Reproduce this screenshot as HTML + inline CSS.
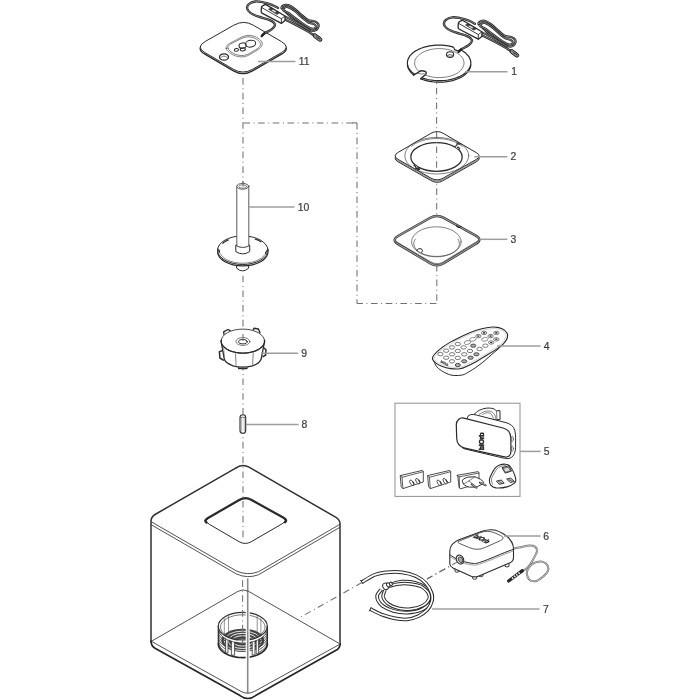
<!DOCTYPE html>
<html><head><meta charset="utf-8">
<style>
html,body{margin:0;padding:0;background:#fff;}
body{width:700px;height:700px;overflow:hidden;font-family:"Liberation Sans",sans-serif;}
svg{display:block;will-change:transform;transform:translateZ(0)}
.ax{fill:none;stroke:#707070;stroke-width:1.05;stroke-dasharray:6.6 3.6 1 3.5}
.ld{fill:none;stroke:#9c9c9c;stroke-width:1.5}
.o{fill:none;stroke:#2a2a2a;stroke-width:1;stroke-linejoin:round;stroke-linecap:round}
.t{fill:none;stroke:#4a4a4a;stroke-width:0.7;stroke-linejoin:round;stroke-linecap:round}
.s{fill:none;stroke:#333;stroke-width:0.85;stroke-linejoin:round;stroke-linecap:round}
.g{fill:none;stroke:#777;stroke-width:0.6;stroke-linejoin:round;stroke-linecap:round}
.w{fill:#fff;stroke:#2a2a2a;stroke-width:1;stroke-linejoin:round;stroke-linecap:round}
.wt{fill:#fff;stroke:#4a4a4a;stroke-width:0.7;stroke-linejoin:round;stroke-linecap:round}
.k{fill:#333;stroke:none}
text{font-family:"Liberation Sans",sans-serif;font-size:10.4px;fill:#3c3c3c;stroke:#3c3c3c;stroke-width:0.22px}
</style></head><body>
<svg width="700" height="700" viewBox="0 0 700 700">
<g id="axes">
<path class="ax" d="M243 78.1V186.6" />
<path class="ax" d="M243.4 122.9H357" />
<path class="ax" d="M352 122.9H357"  style="stroke-dasharray:none"/>
<path class="ax" d="M357 122.9V303.4" />
<path class="ax" d="M436.4 303.4H357" />
<path class="ax" d="M243 275.7V341" />
<path class="ax" d="M243 363.8V415" />
<path class="ax" d="M243 427V537.4"  style="stroke-dasharray:6.6 3.65 1 3.55"/>
<path class="ax" d="M436.7 183V215.7"  style="stroke-dashoffset:9.4"/>
<path class="ax" d="M436.8 264.8V303" />
<path class="ax" d="M458 561.6L427 579" />
<path class="ax" d="M362 582.5L300 617.5" />
</g>
<g id="cyl">
<defs><clipPath id="csil"><path d="M218.3 626.2L218.5 624.8L218.9 623.3L219.5 621.9L220.5 620.6L221.6 619.3L223.0 618.1L224.6 617.0L226.5 615.9L228.4 615.0L230.6 614.2L232.9 613.6L235.3 613.1L237.8 612.7L240.3 612.5L242.8 612.4L245.4 612.5L247.9 612.7L250.4 613.1L252.8 613.6L255.1 614.2L257.3 615.0L259.2 615.9L261.1 617.0L262.7 618.1L264.1 619.3L265.2 620.6L266.2 621.9L266.8 623.3L267.2 624.8L267.4 626.2L267.4 643.8L267.4 643.8L267.2 645.2L266.8 646.7L266.2 648.1L265.2 649.4L264.1 650.7L262.7 651.9L261.1 653.0L259.2 654.1L257.3 655.0L255.1 655.8L252.8 656.4L250.4 656.9L247.9 657.3L245.4 657.5L242.8 657.6L240.3 657.5L237.8 657.3L235.3 656.9L232.9 656.4L230.6 655.8L228.4 655.0L226.5 654.1L224.6 653.0L223.0 651.9L221.6 650.7L220.5 649.4L219.5 648.1L218.9 646.7L218.5 645.2L218.3 643.8Z"/></clipPath></defs>
<path class="t" d="M224.3 618.7V635.2"  style="stroke:#666"/>
<path class="t" d="M228.5 616.5V637.4"  style="stroke:#666"/>
<path class="t" d="M257.2 616.5V637.4"  style="stroke:#666"/>
<path class="t" d="M260.9 618.4V635.5"  style="stroke:#666"/>
<g clip-path="url(#csil)">
<ellipse class="" cx="242.8" cy="640.3" rx="21.5" ry="11.6"  style="fill:#454545;stroke:none"/>
<ellipse class="" cx="242.8" cy="640.9" rx="18.6" ry="9.8"  style="fill:none;stroke:#f0f0f0;stroke-width:0.9"/>
<ellipse class="" cx="242.8" cy="640.9" rx="14.6" ry="7.6"  style="fill:none;stroke:#f0f0f0;stroke-width:1.0"/>
<ellipse class="" cx="242.8" cy="640.9" rx="10.4" ry="5.2"  style="fill:none;stroke:#f0f0f0;stroke-width:1.0"/>
<ellipse class="" cx="242.8" cy="641.1" rx="5.8" ry="2.7"  style="fill:#e4e4e4;stroke:#333;stroke-width:0.7"/>
<path class="" d="M227.8 639.7L226.2 638.9L224.8 638.1L223.4 637.2L222.3 636.3L221.2 635.3L220.3 634.2L219.6 633.2L219.0 632.0L218.6 630.9L218.4 629.8"  style="fill:none;stroke:#3a3a3a;stroke-width:0.9"/>
<path class="" d="M267.3 629.8L267.1 630.9L266.7 632.0L266.1 633.2L265.4 634.2L264.5 635.3L263.4 636.3L262.3 637.2L260.9 638.1L259.5 638.9L257.9 639.7"  style="fill:none;stroke:#3a3a3a;stroke-width:0.9"/>
<path class="" d="M227.8 642.3L226.2 641.5L224.8 640.7L223.4 639.8L222.3 638.9L221.2 637.9L220.3 636.8L219.6 635.8L219.0 634.6L218.6 633.5L218.4 632.4"  style="fill:none;stroke:#3a3a3a;stroke-width:0.9"/>
<path class="" d="M267.3 632.4L267.1 633.5L266.7 634.6L266.1 635.8L265.4 636.8L264.5 637.9L263.4 638.9L262.3 639.8L260.9 640.7L259.5 641.5L257.9 642.3"  style="fill:none;stroke:#3a3a3a;stroke-width:0.9"/>
<path class="" d="M227.8 644.9L226.2 644.1L224.8 643.3L223.4 642.4L222.3 641.5L221.2 640.5L220.3 639.4L219.6 638.4L219.0 637.2L218.6 636.1L218.4 635.0"  style="fill:none;stroke:#3a3a3a;stroke-width:0.9"/>
<path class="" d="M267.3 635.0L267.1 636.1L266.7 637.2L266.1 638.4L265.4 639.4L264.5 640.5L263.4 641.5L262.3 642.4L260.9 643.3L259.5 644.1L257.9 644.9"  style="fill:none;stroke:#3a3a3a;stroke-width:0.9"/>
<path class="" d="M227.8 647.5L226.2 646.7L224.8 645.9L223.4 645.0L222.3 644.1L221.2 643.1L220.3 642.0L219.6 641.0L219.0 639.8L218.6 638.7L218.4 637.6"  style="fill:none;stroke:#3a3a3a;stroke-width:0.9"/>
<path class="" d="M267.3 637.6L267.1 638.7L266.7 639.8L266.1 641.0L265.4 642.0L264.5 643.1L263.4 644.1L262.3 645.0L260.9 645.9L259.5 646.7L257.9 647.5"  style="fill:none;stroke:#3a3a3a;stroke-width:0.9"/>
<path class="" d="M227.8 650.1L226.2 649.3L224.8 648.5L223.4 647.6L222.3 646.7L221.2 645.7L220.3 644.6L219.6 643.6L219.0 642.4L218.6 641.3L218.4 640.2"  style="fill:none;stroke:#3a3a3a;stroke-width:0.9"/>
<path class="" d="M267.3 640.2L267.1 641.3L266.7 642.4L266.1 643.6L265.4 644.6L264.5 645.7L263.4 646.7L262.3 647.6L260.9 648.5L259.5 649.3L257.9 650.1"  style="fill:none;stroke:#3a3a3a;stroke-width:0.9"/>
<path class="" d="M227.8 652.7L226.2 651.9L224.8 651.1L223.4 650.2L222.3 649.3L221.2 648.3L220.3 647.2L219.6 646.2L219.0 645.0L218.6 643.9L218.4 642.8"  style="fill:none;stroke:#3a3a3a;stroke-width:0.9"/>
<path class="" d="M267.3 642.8L267.1 643.9L266.7 645.0L266.1 646.2L265.4 647.2L264.5 648.3L263.4 649.3L262.3 650.2L260.9 651.1L259.5 651.9L257.9 652.7"  style="fill:none;stroke:#3a3a3a;stroke-width:0.9"/>
</g>
<path class="" d="M225.6 637.4H228.0V653.0H225.6Z"  style="fill:#f6f6f6;stroke:#222;stroke-width:0.7"/>
<path class="" d="M231.4 639.6H234.6V655.2H231.4Z"  style="fill:#f6f6f6;stroke:#222;stroke-width:0.7"/>
<path class="" d="M252.2 639.4H255.0V655.0H252.2Z"  style="fill:#f6f6f6;stroke:#222;stroke-width:0.7"/>
<path class="" d="M256.2 638.1H258.6V653.7H256.2Z"  style="fill:#f6f6f6;stroke:#222;stroke-width:0.7"/>
<path class="" d="M266.7 628.9L266.4 630.2L265.9 631.6L265.1 632.9L264.2 634.2L263.0 635.3L261.6 636.5L260.0 637.5L258.3 638.5L256.4 639.3L254.3 640.0L252.2 640.6L249.9 641.1L247.6 641.4L245.2 641.6L242.8 641.7L240.5 641.6L238.1 641.4L235.8 641.1L233.5 640.6L231.4 640.0L229.3 639.3L227.4 638.5L225.7 637.5L224.1 636.5L222.7 635.3L221.5 634.2L220.6 632.9L219.8 631.6L219.3 630.2L219.0 628.9"  style="fill:none;stroke:#f8f8f8;stroke-width:1.7"/>
<path class="" d="M266.8 630.6L266.5 632.0L265.9 633.3L265.1 634.5L264.0 635.8L262.8 636.9L261.4 638.0L259.8 639.0L258.1 639.9L256.2 640.7L254.2 641.4L252.0 642.0L249.8 642.4L247.5 642.7L245.2 642.9L242.8 643.0L240.5 642.9L238.2 642.7L235.9 642.4L233.7 642.0L231.5 641.4L229.5 640.7L227.6 639.9L225.9 639.0L224.3 638.0L222.9 636.9L221.7 635.8L220.6 634.5L219.8 633.3L219.2 632.0L218.9 630.6"  style="fill:none;stroke:#333;stroke-width:0.7"/>
<path class="o" d="M267.4 643.8L267.2 645.2L266.8 646.7L266.2 648.1L265.2 649.4L264.1 650.7L262.7 651.9L261.1 653.0L259.2 654.1L257.3 655.0L255.1 655.8L252.8 656.4L250.4 656.9L247.9 657.3L245.4 657.5L242.8 657.6L240.3 657.5L237.8 657.3L235.3 656.9L232.9 656.4L230.6 655.8L228.4 655.0L226.5 654.1L224.6 653.0L223.0 651.9L221.6 650.7L220.5 649.4L219.5 648.1L218.9 646.7L218.5 645.2L218.3 643.8"  style="stroke-width:1.7"/>
<path class="o" d="M218.3 626.2V643.8M267.4 626.2V643.8"  style="stroke-width:1.2"/>
<ellipse class="" cx="242.8" cy="626.2" rx="24.5" ry="13.8"  style="fill:none;stroke:#333;stroke-width:1.2"/>
<ellipse class="" cx="242.8" cy="627.0" rx="22.3" ry="12.2"  style="fill:none;stroke:#555;stroke-width:0.8"/>
</g>
<path class="ax" d="M242.6 580.3V644"  style="stroke-dasharray:6.7 3.7 1 3.45"/>
<g id="cube">
<path class="o" d="M236.5 467.6Q242.8 463.6 249 467.2L336 517.4Q340 519.8 340 524V642"  style="stroke-width:1.5;stroke:#303030"/>
<path class="o" d="M236.5 467.6L155 514.5Q151 516.8 151 521.5V642"  style="stroke-width:1.5;stroke:#303030"/>
<path class="s" d="M151.5 521.9L236.3 570.9Q247.5 576.0 258.6 571.7L339.8 524.4" />
<path class="s" d="M151.5 524.9L236.3 573.9Q247.5 579.0 258.6 574.7L339.8 527.4" />
<path class="" d="M247.7 578.5V693.2"  style="fill:none;stroke:#fff;stroke-width:4"/>
<path class="" d="M247.7 578.5V693.2"  style="fill:none;stroke:#8a8a8a;stroke-width:1.6"/>
<path class="s" d="M151.6 641.2L238 591.3Q243 588.4 248.5 591.3L339.4 643.6" />
<path class="s" d="M151.5 641.4L241 691.4Q247.7 695 254.5 691.4L339.2 644.6" />
<path class="o" d="M151 641Q151 645.8 155 648.2L240 695.6Q247.8 701.4 255.6 695.6L335.6 650.6Q340.4 648 340.2 643"  style="stroke-width:1.7;stroke:#262626"/>
<path class="s" d="M239.4 500.3Q245.5 496.8 251.6 500.2L282.1 516.9Q288.2 520.3 282.1 523.8L251.3 541.7Q245.2 545.2 239.1 541.7L209.3 524.3Q203.2 520.8 209.3 517.3Z"  style="stroke-width:1;stroke:#2a2a2a"/>
<path class="o" d="M206.4 522.6Q203.6 520.6 207.6 518.2L239.6 499.8Q245.5 496.6 251.2 499.8L283.6 517.8Q287.8 520.2 285 522.4"  style="stroke-width:2.2"/>
</g>
<g id="p2">
<path class="w" d="M431.0 135.7Q437.1 132.2 443.2 135.7L476.2 155.0Q482.3 158.5 476.2 161.9L443.1 180.6Q437.0 184.0 430.9 180.5L398.1 161.8Q392.0 158.3 398.1 154.8Z" />
<path class="t" d="M431.0 134.5Q437.1 131.0 443.2 134.5L476.2 153.8Q482.3 157.3 476.2 160.7L443.1 179.4Q437.0 182.8 430.9 179.3L398.1 160.6Q392.0 157.1 398.1 153.6Z" />
<path class="w" d="M431.0 133.3Q437.1 129.8 443.2 133.3L476.2 152.6Q482.3 156.1 476.2 159.5L443.1 178.2Q437.0 181.6 430.9 178.1L398.1 159.4Q392.0 155.9 398.1 152.4Z" />
<ellipse class="t" cx="436.8" cy="155.7" rx="32.0" ry="18.3" />
<path class="t" d="M411.4 146.3L413.2 144.9L415.3 143.6L417.5 142.5L419.9 141.5L422.5 140.6L425.2 139.8L428.0 139.3L430.9 138.8L433.8 138.6L436.8 138.5L439.8 138.6L442.7 138.8L445.6 139.3L448.4 139.8L451.1 140.6L453.7 141.5L456.1 142.5L458.3 143.6L460.4 144.9L462.2 146.3" />
<ellipse class="o" cx="436.5" cy="157.0" rx="25.7" ry="14.3"  style="stroke-width:1.25"/>
<path class="" d="M456.2 146.6L458.6 148.2"  style="fill:none;stroke:#fff;stroke-width:2.2"/>
<path class="o" d="M455.6 146.2Q457.6 145.2 457.2 143.2Q458.6 144.6 460.6 143.6M457.4 147.6Q458.2 146.2 459.6 148.8"  style="stroke-width:1.2"/>
<path class="" d="M414.6 166.2L417 168"  style="fill:none;stroke:#fff;stroke-width:2.2"/>
<path class="o" d="M414 165.4Q416.6 166.6 415.8 168.6Q417.6 168.2 418.6 170M416.2 168.6Q418.4 167.2 419.6 169.4"  style="stroke-width:1.2"/>
</g>
<path class="ax" d="M436.6 73V168.6" />
<g id="p3">
<path class="" d="M429.9 218.0Q436.8 214.0 443.8 217.9L475.8 235.6Q482.8 239.5 476.0 243.7L443.8 263.2Q437.0 267.4 430.1 263.3L398.1 244.1Q391.2 240.0 398.1 236.0Z"  style="fill:#fff;stroke:#3a3a3a;stroke-width:2.5;stroke-linejoin:round"/>
<path class="" d="M429.9 218.0Q436.8 214.0 443.8 217.9L475.8 235.6Q482.8 239.5 476.0 243.7L443.8 263.2Q437.0 267.4 430.1 263.3L398.1 244.1Q391.2 240.0 398.1 236.0Z"  style="fill:none;stroke:#b4b4b4;stroke-width:0.9"/>
<path class="t" d="M395.5 241.2L431 262Q437 265.4 443 262L478.6 240.4" />
<ellipse class="t" cx="436.4" cy="241.8" rx="24.8" ry="15.0" />
<path class="t" d="M458.0 239.2L458.8 240.8L459.3 242.4L459.4 244.0L459.1 245.7L458.4 247.3L457.4 248.8L456.1 250.3L454.4 251.6L452.4 252.8L450.2 253.9L447.8 254.8L445.1 255.5L442.4 256.0L439.5 256.3L436.6 256.4L433.7 256.3L430.8 256.0L428.1 255.5L425.4 254.8L423.0 253.9L420.8 252.8L418.8 251.6L417.1 250.3L415.8 248.8L414.8 247.3L414.1 245.7L413.8 244.0L413.9 242.4L414.4 240.8L415.2 239.2" />
<path class="o" d="M456.6 225.6Q458 228.4 460.8 226.8"  style="stroke-width:1.3"/>
<path class="o" d="M416.6 250.6Q418 247.6 421.4 248.8Q423.6 250.6 421.8 252.4"  style="stroke-width:1"/>
</g>
<g id="p1">
<ellipse class="" cx="439.1" cy="63.7" rx="31.7" ry="18.6"  style="fill:#fff;stroke:none"/>
<path class="o" d="M470.8 65.0L470.6 66.3L470.3 67.5L469.8 68.8L469.2 70.0L468.4 71.2L467.5 72.3L466.4 73.4L465.2 74.5L463.9 75.5L462.4 76.5L460.8 77.4L459.1 78.2L457.3 79.0L455.5 79.6L453.5 80.3L451.5 80.8L449.4 81.2L447.2 81.6L445.0 81.9L442.8 82.1L440.5 82.2L438.3 82.2L436.0 82.1L433.8 82.0L431.6 81.7L429.4 81.4L427.3 80.9L425.3 80.4L423.3 79.8L421.4 79.2"  style="stroke-width:1.2"/>
<path class="o" d="M414.5 75.4L413.2 74.5L412.1 73.5L411.1 72.5L410.2 71.5L409.4 70.4L408.8 69.3L408.2 68.2L407.8 67.1L407.6 66.0L407.4 64.8"  style="stroke-width:1.2"/>
<path class="o" d="M414.8 74.3L413.5 73.4L412.3 72.4L411.2 71.4L410.3 70.3L409.4 69.2L408.7 68.0L408.2 66.9L407.8 65.7L407.5 64.5L407.4 63.3L407.4 62.1L407.6 60.9L407.9 59.7L408.4 58.5L409.0 57.4L409.7 56.2L410.6 55.1L411.6 54.1L412.7 53.0L414.0 52.1L415.3 51.1L416.8 50.3L418.4 49.4L420.0 48.7L421.8 48.0L423.6 47.4L425.5 46.8L427.5 46.3L429.5 45.9L431.6 45.6L433.7 45.4L435.8 45.2L437.9 45.1L440.1 45.1L442.2 45.2L444.3 45.3L446.4 45.6L448.5 45.9L450.5 46.3L452.5 46.8"  style="stroke-width:1.2"/>
<path class="o" d="M462.3 50.8L463.8 51.7L465.2 52.8L466.4 53.9L467.5 55.0L468.5 56.2L469.3 57.4L469.9 58.7L470.4 59.9L470.7 61.2L470.8 62.5L470.8 63.8L470.6 65.1L470.2 66.4L469.7 67.6L469.0 68.9L468.1 70.1L467.1 71.2L465.9 72.4L464.6 73.4L463.2 74.5L461.6 75.4L460.0 76.3L458.2 77.1L456.3 77.9L454.3 78.5L452.2 79.1L450.1 79.6L447.9 80.0L445.7 80.3L443.4 80.5L441.1 80.7L438.8 80.7L436.5 80.6L434.2 80.5L431.9 80.2L429.7 79.9L427.5 79.5L425.4 78.9L423.3 78.3L421.4 77.7"  style="stroke-width:1.2"/>
<path class="w" d="M413.4 75.2L417.9 72.7C419.1 71 422.1 70.3 425.1 71.4C426.8 72.4 426.6 74 424.7 75.3L420.6 78.9"  style="stroke-width:1.4"/>
<path class="t" d="M418.2 73.4Q421 74.4 424.4 73.8" />
<path class="o" d="M452.6 46.6L453.8 47.6L454.6 49.6L457 50.6"  style="stroke-width:1.2"/>
<path class="o" d="M457 50.6L461.4 50.4"  style="stroke-width:1.2"/>
<path class="t" d="M418.1 70.6L416.8 69.1L415.8 67.5L415.0 65.8L414.7 64.2L414.6 62.5L414.9 60.8L415.5 59.1L416.5 57.5L417.8 56.0L419.3 54.6L421.1 53.3L423.2 52.1L425.5 51.1L428.0 50.2L430.6 49.5L433.4 49.0L436.2 48.7L439.1 48.6L442.0 48.7L444.9 49.0L447.6 49.4L450.3 50.1L452.8 51.0L455.1 52.0L457.2 53.1L459.1 54.4L460.7 55.8L462.0 57.3L463.0 58.9L463.6 60.6L464.0 62.3L464.0 64.0L463.6 65.6L462.9 67.3L462.0 68.9L460.6 70.4L459.1 71.8L457.2 73.1L455.1 74.3L452.8 75.3L450.2 76.1L447.6 76.8L444.8 77.2L442.0 77.5L439.1 77.6L436.2 77.5L433.4 77.2L430.6 76.7L428.0 76.0L425.5 75.1" />
<ellipse class="o" cx="450.1" cy="54.6" rx="3.6" ry="2.9"  style="stroke-width:1.1"/>
<path class="t" d="M447.2 55.4Q450.1 53 453 55.4" />
<path class="t" d="M447.6 55.8Q450.1 57 452.6 55.8" />
</g>
<g id="p11">
<path class="w" d="M234.0 26.7Q243.6 21.2 253.1 26.7L281.5 43.2Q291.0 48.7 281.5 54.2L252.5 70.9Q243.0 76.4 233.5 70.9L204.9 54.2Q195.4 48.7 205.0 43.2Z"  style="stroke-width:1.4"/>
<path class="w" d="M234.0 25.1Q243.6 19.6 253.1 25.1L281.5 41.6Q291.0 47.1 281.5 52.6L252.5 69.3Q243.0 74.8 233.5 69.3L204.9 52.6Q195.4 47.1 205.0 41.6Z" />
<path class="t" d="M226.1 48.4C225.9 47.1 226.3 45.9 227.9 44.6C229.4 43.2 233.0 41.6 235.6 40.3C238.1 38.9 241.0 37.2 243.3 36.4C245.6 35.6 247.3 35.4 249.3 35.4C251.3 35.4 253.4 35.9 255.3 36.7C257.1 37.5 259.2 38.9 260.4 40.1C261.6 41.4 262.4 42.8 262.3 44.1C262.2 45.5 261.2 47.1 259.7 48.4C258.3 49.8 255.6 51.1 253.6 52.3C251.5 53.5 249.6 54.9 247.6 55.7C245.6 56.5 243.6 56.9 241.6 56.9C239.6 56.9 237.6 56.6 235.6 55.9C233.6 55.2 231.1 54.0 229.6 52.7C228.0 51.5 226.4 49.8 226.1 48.4Z" />
<path class="t" d="M227.9 48.1C227.7 47.0 228.1 46.0 229.5 44.8C230.9 43.6 234.1 42.2 236.4 41.1C238.7 39.9 241.3 38.4 243.4 37.7C245.4 37.0 247.0 36.8 248.8 36.8C250.6 36.9 252.5 37.2 254.2 37.9C255.8 38.6 257.7 39.8 258.8 40.9C259.8 42.0 260.6 43.2 260.5 44.4C260.4 45.6 259.5 47.0 258.2 48.1C256.9 49.3 254.4 50.4 252.6 51.5C250.8 52.6 249.0 53.8 247.2 54.5C245.4 55.2 243.6 55.5 241.8 55.5C240.0 55.6 238.2 55.2 236.4 54.6C234.6 54.0 232.4 53.0 231.0 51.9C229.6 50.8 228.2 49.3 227.9 48.1Z" />
<ellipse class="o" cx="250.6" cy="43.7" rx="5.1" ry="3.4" transform="rotate(-8 250.561 43.7104)" />
<ellipse class="o" cx="242.6" cy="45.6" rx="3.6" ry="2.7" transform="rotate(-8 242.592 45.5955)" />
<ellipse class="o" cx="236.4" cy="49.9" rx="2.1" ry="1.4" transform="rotate(-8 236.422 49.88)" />
<ellipse class="o" cx="242.8" cy="49.4" rx="2.6" ry="1.5" transform="rotate(-8 242.849 49.3659)" />
<ellipse class="o" cx="224.0" cy="57.0" rx="4.5" ry="3.2"  style="stroke-width:1.3"/>
<path class="t" d="M220.8 57.6Q224.0 54.4 227.2 57.6" />
</g>
<g id="cab11"><path class="" d="M281.4 7.7C281.6 7.0 283.2 5.6 284.4 5.2C285.6 4.8 286.7 4.6 288.4 5.2C290.1 5.8 292.1 6.9 294.4 8.7C296.7 10.4 300.1 13.8 302.4 15.7C304.7 17.6 306.4 19.3 308.4 20.2C310.4 21.1 312.7 20.5 314.4 21.2C316.1 21.9 317.8 23.0 318.4 24.2C319.0 25.4 318.6 27.1 317.9 28.2C317.2 29.3 315.6 30.4 314.4 30.7C313.1 31.0 312.4 31.0 310.4 30.2C308.4 29.4 305.1 27.4 302.4 25.7C299.7 24.0 296.9 22.2 294.4 20.2C291.9 18.2 289.2 15.4 287.4 13.7C285.6 11.9 284.4 10.7 283.4 9.7C282.4 8.7 281.2 8.4 281.4 7.7Z"  style="fill:none;stroke:#262626;stroke-width:2.3;stroke-linecap:round"/><path class="" d="M281.4 7.7C281.6 7.0 283.2 5.6 284.4 5.2C285.6 4.8 286.7 4.6 288.4 5.2C290.1 5.8 292.1 6.9 294.4 8.7C296.7 10.4 300.1 13.8 302.4 15.7C304.7 17.6 306.4 19.3 308.4 20.2C310.4 21.1 312.7 20.5 314.4 21.2C316.1 21.9 317.8 23.0 318.4 24.2C319.0 25.4 318.6 27.1 317.9 28.2C317.2 29.3 315.6 30.4 314.4 30.7C313.1 31.0 312.4 31.0 310.4 30.2C308.4 29.4 305.1 27.4 302.4 25.7C299.7 24.0 296.9 22.2 294.4 20.2C291.9 18.2 289.2 15.4 287.4 13.7C285.6 11.9 284.4 10.7 283.4 9.7C282.4 8.7 281.2 8.4 281.4 7.7Z"  style="fill:none;stroke:#b8b8b8;stroke-width:0.6;stroke-linecap:round"/>
<path class="" d="M282.9 10.0C282.4 9.0 284.8 7.5 285.9 7.1C287.0 6.7 287.8 7.0 289.4 7.7C291.0 8.4 293.2 9.8 295.4 11.5C297.6 13.2 300.2 16.1 302.4 17.9C304.6 19.7 306.6 21.5 308.4 22.5C310.2 23.5 312.2 23.3 313.4 23.9C314.6 24.5 315.5 25.2 315.8 25.9C316.1 26.6 315.9 27.4 315.4 27.9C314.9 28.4 314.0 28.7 313.0 28.7C312.0 28.7 311.2 28.6 309.4 27.7C307.6 26.8 304.7 24.9 302.4 23.3C300.1 21.7 297.6 19.8 295.4 18.1C293.1 16.4 291.0 14.4 288.9 13.1C286.8 11.8 283.4 11.0 282.9 10.0Z"  style="fill:none;stroke:#262626;stroke-width:2.1;stroke-linecap:round"/><path class="" d="M282.9 10.0C282.4 9.0 284.8 7.5 285.9 7.1C287.0 6.7 287.8 7.0 289.4 7.7C291.0 8.4 293.2 9.8 295.4 11.5C297.6 13.2 300.2 16.1 302.4 17.9C304.6 19.7 306.6 21.5 308.4 22.5C310.2 23.5 312.2 23.3 313.4 23.9C314.6 24.5 315.5 25.2 315.8 25.9C316.1 26.6 315.9 27.4 315.4 27.9C314.9 28.4 314.0 28.7 313.0 28.7C312.0 28.7 311.2 28.6 309.4 27.7C307.6 26.8 304.7 24.9 302.4 23.3C300.1 21.7 297.6 19.8 295.4 18.1C293.1 16.4 291.0 14.4 288.9 13.1C286.8 11.8 283.4 11.0 282.9 10.0Z"  style="fill:none;stroke:#b8b8b8;stroke-width:0.6;stroke-linecap:round"/>
<path class="" d="M285.0 19.6C286.3 20.2 290.0 21.9 293.0 23.4C296.0 24.9 300.0 27.1 303.0 28.8C306.0 30.5 309.0 32.2 311.0 33.4C313.0 34.6 314.3 35.6 315.0 36.0"  style="fill:none;stroke:#262626;stroke-width:2.3;stroke-linecap:round"/><path class="" d="M285.0 19.6C286.3 20.2 290.0 21.9 293.0 23.4C296.0 24.9 300.0 27.1 303.0 28.8C306.0 30.5 309.0 32.2 311.0 33.4C313.0 34.6 314.3 35.6 315.0 36.0"  style="fill:none;stroke:#b8b8b8;stroke-width:0.6;stroke-linecap:round"/>
<path class="" d="M286.0 17.0C287.3 17.7 291.2 19.4 294.0 21.0C296.8 22.6 300.3 24.8 303.0 26.4C305.7 28.0 308.8 29.9 310.0 30.6"  style="fill:none;stroke:#262626;stroke-width:2.1;stroke-linecap:round"/><path class="" d="M286.0 17.0C287.3 17.7 291.2 19.4 294.0 21.0C296.8 22.6 300.3 24.8 303.0 26.4C305.7 28.0 308.8 29.9 310.0 30.6"  style="fill:none;stroke:#b8b8b8;stroke-width:0.6;stroke-linecap:round"/>
<path class="" d="M313.2 34.2L315.2 33.6L321 37.8Q322.6 39.6 321.4 41L319.6 41.4L313.4 37Z"  style="fill:#8a8a8a;stroke:#222;stroke-width:1"/>
<path class="" d="M316.4 36L318.2 38.6M318.6 37.4L320 39.6"  style="fill:none;stroke:#222;stroke-width:0.8"/>
<path class="" d="M262.3 35.2C262.8 34.9 263.5 34.0 265.0 33.1C266.5 32.2 269.7 30.9 271.3 29.7C272.9 28.5 274.5 26.9 274.9 25.7C275.3 24.5 274.8 23.4 273.6 22.3C272.4 21.2 270.4 20.3 267.9 19.4C265.4 18.4 261.6 17.7 258.7 16.6C255.8 15.6 252.6 14.4 250.7 13.1C248.8 11.8 247.4 10.1 247.1 8.6C246.8 7.1 247.6 5.2 249.0 4.0C250.4 2.8 252.9 1.8 255.3 1.5C257.7 1.2 260.6 1.8 263.3 2.3C266.0 2.8 268.8 3.6 271.3 4.6C273.8 5.5 277.0 7.4 278.1 8.0"  style="fill:none;stroke:#262626;stroke-width:2.3;stroke-linecap:round"/><path class="" d="M262.3 35.2C262.8 34.9 263.5 34.0 265.0 33.1C266.5 32.2 269.7 30.9 271.3 29.7C272.9 28.5 274.5 26.9 274.9 25.7C275.3 24.5 274.8 23.4 273.6 22.3C272.4 21.2 270.4 20.3 267.9 19.4C265.4 18.4 261.6 17.7 258.7 16.6C255.8 15.6 252.6 14.4 250.7 13.1C248.8 11.8 247.4 10.1 247.1 8.6C246.8 7.1 247.6 5.2 249.0 4.0C250.4 2.8 252.9 1.8 255.3 1.5C257.7 1.2 260.6 1.8 263.3 2.3C266.0 2.8 268.8 3.6 271.3 4.6C273.8 5.5 277.0 7.4 278.1 8.0"  style="fill:none;stroke:#b8b8b8;stroke-width:0.6;stroke-linecap:round"/>
<path class="" d="M261.6 36.2L264.4 33.4"  style="fill:none;stroke:#222;stroke-width:2.2;stroke-linecap:round"/>
<path class="w" d="M261.4 8Q261.2 6.4 263 5.6L265.6 4.4L285 16V20.6L281.4 23.4L262 13.2Q261.2 12.6 261.2 11Z"  style="stroke-width:1.3"/>
<path class="o" d="M261.8 7.6L281.4 18.8L285 16M281.4 18.8L281.4 23.4"  style="stroke-width:0.9"/>
<path class="" d="M268.6 9.2L271 7.8L279.4 12.8L277 14.4Z"  style="fill:#444;stroke:#222;stroke-width:0.6"/>
<path class="" d="M271.6 10.4L273 9.6L276.4 11.6L275 12.6Z"  style="fill:#ddd;stroke:none"/></g>
<g id="cab1" transform="translate(196.9 15.8)"><path class="" d="M281.4 7.7C281.6 7.0 283.2 5.6 284.4 5.2C285.6 4.8 286.7 4.6 288.4 5.2C290.1 5.8 292.1 6.9 294.4 8.7C296.7 10.4 300.1 13.8 302.4 15.7C304.7 17.6 306.4 19.3 308.4 20.2C310.4 21.1 312.7 20.5 314.4 21.2C316.1 21.9 317.8 23.0 318.4 24.2C319.0 25.4 318.6 27.1 317.9 28.2C317.2 29.3 315.6 30.4 314.4 30.7C313.1 31.0 312.4 31.0 310.4 30.2C308.4 29.4 305.1 27.4 302.4 25.7C299.7 24.0 296.9 22.2 294.4 20.2C291.9 18.2 289.2 15.4 287.4 13.7C285.6 11.9 284.4 10.7 283.4 9.7C282.4 8.7 281.2 8.4 281.4 7.7Z"  style="fill:none;stroke:#262626;stroke-width:2.3;stroke-linecap:round"/><path class="" d="M281.4 7.7C281.6 7.0 283.2 5.6 284.4 5.2C285.6 4.8 286.7 4.6 288.4 5.2C290.1 5.8 292.1 6.9 294.4 8.7C296.7 10.4 300.1 13.8 302.4 15.7C304.7 17.6 306.4 19.3 308.4 20.2C310.4 21.1 312.7 20.5 314.4 21.2C316.1 21.9 317.8 23.0 318.4 24.2C319.0 25.4 318.6 27.1 317.9 28.2C317.2 29.3 315.6 30.4 314.4 30.7C313.1 31.0 312.4 31.0 310.4 30.2C308.4 29.4 305.1 27.4 302.4 25.7C299.7 24.0 296.9 22.2 294.4 20.2C291.9 18.2 289.2 15.4 287.4 13.7C285.6 11.9 284.4 10.7 283.4 9.7C282.4 8.7 281.2 8.4 281.4 7.7Z"  style="fill:none;stroke:#b8b8b8;stroke-width:0.6;stroke-linecap:round"/>
<path class="" d="M282.9 10.0C282.4 9.0 284.8 7.5 285.9 7.1C287.0 6.7 287.8 7.0 289.4 7.7C291.0 8.4 293.2 9.8 295.4 11.5C297.6 13.2 300.2 16.1 302.4 17.9C304.6 19.7 306.6 21.5 308.4 22.5C310.2 23.5 312.2 23.3 313.4 23.9C314.6 24.5 315.5 25.2 315.8 25.9C316.1 26.6 315.9 27.4 315.4 27.9C314.9 28.4 314.0 28.7 313.0 28.7C312.0 28.7 311.2 28.6 309.4 27.7C307.6 26.8 304.7 24.9 302.4 23.3C300.1 21.7 297.6 19.8 295.4 18.1C293.1 16.4 291.0 14.4 288.9 13.1C286.8 11.8 283.4 11.0 282.9 10.0Z"  style="fill:none;stroke:#262626;stroke-width:2.1;stroke-linecap:round"/><path class="" d="M282.9 10.0C282.4 9.0 284.8 7.5 285.9 7.1C287.0 6.7 287.8 7.0 289.4 7.7C291.0 8.4 293.2 9.8 295.4 11.5C297.6 13.2 300.2 16.1 302.4 17.9C304.6 19.7 306.6 21.5 308.4 22.5C310.2 23.5 312.2 23.3 313.4 23.9C314.6 24.5 315.5 25.2 315.8 25.9C316.1 26.6 315.9 27.4 315.4 27.9C314.9 28.4 314.0 28.7 313.0 28.7C312.0 28.7 311.2 28.6 309.4 27.7C307.6 26.8 304.7 24.9 302.4 23.3C300.1 21.7 297.6 19.8 295.4 18.1C293.1 16.4 291.0 14.4 288.9 13.1C286.8 11.8 283.4 11.0 282.9 10.0Z"  style="fill:none;stroke:#b8b8b8;stroke-width:0.6;stroke-linecap:round"/>
<path class="" d="M285.0 19.6C286.3 20.2 290.0 21.9 293.0 23.4C296.0 24.9 300.0 27.1 303.0 28.8C306.0 30.5 309.0 32.2 311.0 33.4C313.0 34.6 314.3 35.6 315.0 36.0"  style="fill:none;stroke:#262626;stroke-width:2.3;stroke-linecap:round"/><path class="" d="M285.0 19.6C286.3 20.2 290.0 21.9 293.0 23.4C296.0 24.9 300.0 27.1 303.0 28.8C306.0 30.5 309.0 32.2 311.0 33.4C313.0 34.6 314.3 35.6 315.0 36.0"  style="fill:none;stroke:#b8b8b8;stroke-width:0.6;stroke-linecap:round"/>
<path class="" d="M286.0 17.0C287.3 17.7 291.2 19.4 294.0 21.0C296.8 22.6 300.3 24.8 303.0 26.4C305.7 28.0 308.8 29.9 310.0 30.6"  style="fill:none;stroke:#262626;stroke-width:2.1;stroke-linecap:round"/><path class="" d="M286.0 17.0C287.3 17.7 291.2 19.4 294.0 21.0C296.8 22.6 300.3 24.8 303.0 26.4C305.7 28.0 308.8 29.9 310.0 30.6"  style="fill:none;stroke:#b8b8b8;stroke-width:0.6;stroke-linecap:round"/>
<path class="" d="M313.2 34.2L315.2 33.6L321 37.8Q322.6 39.6 321.4 41L319.6 41.4L313.4 37Z"  style="fill:#8a8a8a;stroke:#222;stroke-width:1"/>
<path class="" d="M316.4 36L318.2 38.6M318.6 37.4L320 39.6"  style="fill:none;stroke:#222;stroke-width:0.8"/>
<path class="" d="M262.3 35.2C262.8 34.9 263.5 34.0 265.0 33.1C266.5 32.2 269.7 30.9 271.3 29.7C272.9 28.5 274.5 26.9 274.9 25.7C275.3 24.5 274.8 23.4 273.6 22.3C272.4 21.2 270.4 20.3 267.9 19.4C265.4 18.4 261.6 17.7 258.7 16.6C255.8 15.6 252.6 14.4 250.7 13.1C248.8 11.8 247.4 10.1 247.1 8.6C246.8 7.1 247.6 5.2 249.0 4.0C250.4 2.8 252.9 1.8 255.3 1.5C257.7 1.2 260.6 1.8 263.3 2.3C266.0 2.8 268.8 3.6 271.3 4.6C273.8 5.5 277.0 7.4 278.1 8.0"  style="fill:none;stroke:#262626;stroke-width:2.3;stroke-linecap:round"/><path class="" d="M262.3 35.2C262.8 34.9 263.5 34.0 265.0 33.1C266.5 32.2 269.7 30.9 271.3 29.7C272.9 28.5 274.5 26.9 274.9 25.7C275.3 24.5 274.8 23.4 273.6 22.3C272.4 21.2 270.4 20.3 267.9 19.4C265.4 18.4 261.6 17.7 258.7 16.6C255.8 15.6 252.6 14.4 250.7 13.1C248.8 11.8 247.4 10.1 247.1 8.6C246.8 7.1 247.6 5.2 249.0 4.0C250.4 2.8 252.9 1.8 255.3 1.5C257.7 1.2 260.6 1.8 263.3 2.3C266.0 2.8 268.8 3.6 271.3 4.6C273.8 5.5 277.0 7.4 278.1 8.0"  style="fill:none;stroke:#b8b8b8;stroke-width:0.6;stroke-linecap:round"/>
<path class="" d="M261.6 36.2L264.4 33.4"  style="fill:none;stroke:#222;stroke-width:2.2;stroke-linecap:round"/>
<path class="w" d="M261.4 8Q261.2 6.4 263 5.6L265.6 4.4L285 16V20.6L281.4 23.4L262 13.2Q261.2 12.6 261.2 11Z"  style="stroke-width:1.3"/>
<path class="o" d="M261.8 7.6L281.4 18.8L285 16M281.4 18.8L281.4 23.4"  style="stroke-width:0.9"/>
<path class="" d="M268.6 9.2L271 7.8L279.4 12.8L277 14.4Z"  style="fill:#444;stroke:#222;stroke-width:0.6"/>
<path class="" d="M271.6 10.4L273 9.6L276.4 11.6L275 12.6Z"  style="fill:#ddd;stroke:none"/></g>
<g id="p10">
<path class="w" d="M236.6 262V268.2Q242.6 273.6 248.6 268.2V262Z" />
<ellipse class="w" cx="242.8" cy="251.6" rx="25.2" ry="14.3"  style="stroke-width:1.2"/>
<ellipse class="w" cx="242.8" cy="250.2" rx="25.2" ry="14.3" />
<path class="t" d="M264.6 254.8L263.6 256.1L262.5 257.2L261.1 258.3L259.4 259.3L257.6 260.3L255.7 261.1L253.6 261.7L251.4 262.3L249.0 262.7L246.7 263.0L244.2 263.2L241.8 263.2L239.4 263.1L237.0 262.8L234.6 262.4L232.4 261.8L230.3 261.2L228.3 260.4L226.5 259.5L224.8 258.5L223.4 257.4L222.1 256.3L221.1 255.1L220.4 253.8" />
<path class="o" d="M255.3 239.1L256.3 239.5L257.3 239.9L258.3 240.3L259.2 240.8L260.1 241.3L260.9 241.8"  style="stroke-width:1.2"/>
<path class="o" d="M222.8 243.3L223.5 242.6L224.4 242.0L225.3 241.4L226.2 240.9L227.2 240.4L228.3 239.9"  style="stroke-width:1.2"/>
<path class="o" d="M266.2 252.0L266.1 252.3L266.0 252.6L265.9 252.9L265.8 253.2L265.6 253.5L265.5 253.8"  style="stroke-width:1.2"/>
<path class="o" d="M219.4 252.0L219.4 251.7L219.3 251.4L219.3 251.1L219.2 250.8L219.2 250.5L219.2 250.2"  style="stroke-width:1.2"/>
<path class="o" d="M267.4 249.6L265.6 252.6M218.2 249.4L219.6 252.4" />
<path class="w" d="M235.8 245.5V251.6Q242.7 256.2 249.7 251.6V245.5Z" />
<path class="t" d="M235.8 245.5Q242.7 249.6 249.7 245.5" />
<path class="wt" d="M236.8 186.3V245.8Q242.8 249 248.8 245.8V186.3Z"  style="stroke-width:0.9"/>
<ellipse class="wt" cx="242.8" cy="186.3" rx="6.0" ry="2.9"  style="stroke-width:0.9"/>
<ellipse class="t" cx="242.8" cy="186.5" rx="4.0" ry="1.7" />
</g>
<path class="ax" d="M243 180.9V186.8"  style="stroke-dasharray:none"/>
<g id="p9">
<path class="w" d="M222.0 350.7L219.4 351.6L219.9 358.0L223.3 360.1"  style="stroke-width:1.5"/>
<path class="w" d="M263.6 347.7L266.0 349.8L265.7 355.0L263.1 356.7"  style="stroke-width:1.5"/>
<path class="w" d="M224.1 334.9L223.7 331.9L228.0 329.5L230.1 330.6"  style="stroke-width:1.4"/>
<path class="w" d="M253.3 329.7L254.1 328.2L258.4 329.0L260.0 332.7"  style="stroke-width:1.4"/>
<path class="w" d="M221.1 341.1L224.4 359.6Q226 363.4 233 365.8Q242.8 368.6 252.6 365.8Q259.6 363.4 261.2 359L264.6 341.1Z"  style="stroke-width:1.3"/>
<path class="o" d="M238.6 367.6V368.6H247V367.6"  style="stroke-width:1.2"/>
<path class="t" d="M235.5 353.7L236.1 364.8M253.3 352.8L252.6 364.4" />
<path class="t" d="M227.1 347.7L230.1 350.7M256.7 349.4L259.7 346.9" />
<path class="g" d="M223.7 347.7L224.6 358.0" />
<ellipse class="w" cx="242.9" cy="341.1" rx="21.7" ry="12.0"  style="stroke-width:1;stroke:#444"/>
<path class="o" d="M264.5 340.1L264.6 341.4L264.4 342.7L264.0 344.0L263.2 345.3L262.3 346.5L261.1 347.6L259.7 348.7L258.1 349.7L256.3 350.6L254.3 351.3L252.2 351.9L250.0 352.4L247.7 352.8L245.3 353.0L242.9 353.1L240.5 353.0L238.1 352.8L235.8 352.4L233.6 351.9L231.5 351.3L229.5 350.6L227.7 349.7L226.1 348.7L224.7 347.6L223.5 346.5L222.6 345.3L221.8 344.0L221.4 342.7L221.2 341.4L221.3 340.1"  style="stroke-width:1.3"/>
<ellipse class="t" cx="242.9" cy="341.5" rx="7.0" ry="4.0" />
<ellipse class="o" cx="242.9" cy="341.7" rx="4.3" ry="2.2" />
</g>
<path class="ax" d="M243 334V340.9"  style="stroke-dasharray:none"/>
<g id="p8">
<path class="w" d="M240 417.6Q240 414.7 242.9 414.7Q245.7 414.7 245.7 417.6V430.4Q245.7 433.3 242.9 433.3Q240 433.3 240 430.4Z"  style="stroke-width:1.1"/>
<path class="g" d="M241.6 417.4V431M244.2 417.4V431" />
<path class="t" d="M240.4 417.8Q242.9 416 245.4 417.8" />
</g>
<g id="p4">
<path class="w" d="M433.0 358.6C433.5 359.7 434.5 363.6 435.9 365.6C437.4 367.7 439.2 369.2 441.7 370.8C444.2 372.3 447.5 374.3 450.7 375.0C453.9 375.8 458.2 375.6 461.0 375.2C463.8 374.8 464.4 374.4 467.4 372.7C470.4 371.0 474.9 368.3 479.0 365.2C483.1 362.2 488.1 357.7 491.8 354.4C495.6 351.2 498.9 348.6 501.5 345.7C504.1 342.9 506.5 338.7 507.5 337.4" />
<path class="w" d="M432.5 357.5C433.1 355.4 436.1 352.4 439.1 349.8C442.2 347.2 446.6 344.3 450.7 341.9C454.8 339.5 459.3 337.4 463.6 335.4C467.8 333.5 472.6 331.6 476.4 330.3C480.3 329.0 483.6 328.2 486.7 327.7C489.8 327.2 492.5 326.9 495.1 327.1C497.6 327.2 500.1 327.8 502.1 328.7C504.1 329.7 506.1 331.3 507.0 332.9C507.9 334.4 507.9 336.2 507.3 338.0C506.7 339.8 505.1 342.0 503.4 343.8C501.7 345.6 499.8 347.0 497.0 348.9C494.2 350.8 490.1 353.3 486.7 355.3C483.3 357.4 479.6 359.6 476.4 361.4C473.2 363.2 470.2 364.8 467.4 366.0C464.6 367.3 462.5 368.4 459.7 368.8C456.9 369.3 453.7 369.0 450.7 368.6C447.7 368.2 444.3 367.3 441.7 366.3C439.1 365.2 436.6 363.9 435.0 362.4C433.5 361.0 431.8 359.6 432.5 357.5Z"  style="stroke-width:1.1"/>
<path class="g" d="M434.3 357.5C434.9 355.7 437.6 353.2 440.4 350.8C443.3 348.5 447.5 345.7 451.3 343.4C455.2 341.1 459.6 338.9 463.8 337.0C468.0 335.0 472.6 333.1 476.4 331.8C480.2 330.5 483.6 329.8 486.7 329.3C489.8 328.7 492.6 328.4 495.1 328.5C497.5 328.6 499.8 329.2 501.5 330.0C503.2 330.9 504.7 332.2 505.3 333.5C506.0 334.8 506.0 336.2 505.5 337.7C504.9 339.3 503.7 341.2 502.1 342.9C500.5 344.6 498.6 345.9 496.0 347.8C493.3 349.6 489.4 351.9 486.1 353.9C482.7 355.9 479.0 358.1 475.9 359.8C472.8 361.6 469.9 363.2 467.2 364.5C464.4 365.7 462.1 366.9 459.4 367.3C456.7 367.7 453.7 367.5 451.0 367.0C448.2 366.6 445.1 365.8 442.7 364.9C440.3 364.0 438.0 362.9 436.6 361.6C435.2 360.4 433.6 359.3 434.3 357.5Z"  style="stroke:#aaa;stroke-width:0.5"/>
<ellipse class="" cx="440.4" cy="354.1" rx="2.7" ry="1.7"  style="fill:#fff;stroke:#444;stroke-width:0.7"/>
<ellipse class="" cx="446.2" cy="350.7" rx="2.7" ry="1.7"  style="fill:#fff;stroke:#444;stroke-width:0.7"/>
<ellipse class="" cx="452.0" cy="347.4" rx="2.7" ry="1.7"  style="fill:#fff;stroke:#444;stroke-width:0.7"/>
<ellipse class="" cx="457.8" cy="344.0" rx="2.7" ry="1.7"  style="fill:#fff;stroke:#444;stroke-width:0.7"/>
<ellipse class="" cx="446.2" cy="357.7" rx="2.7" ry="1.7"  style="fill:#fff;stroke:#444;stroke-width:0.7"/>
<ellipse class="" cx="452.0" cy="354.3" rx="2.7" ry="1.7"  style="fill:#fff;stroke:#444;stroke-width:0.7"/>
<ellipse class="" cx="457.8" cy="351.0" rx="2.7" ry="1.7"  style="fill:#fff;stroke:#444;stroke-width:0.7"/>
<ellipse class="" cx="463.6" cy="347.4" rx="2.7" ry="1.7"  style="fill:#fff;stroke:#444;stroke-width:0.7"/>
<ellipse class="" cx="452.0" cy="361.3" rx="2.7" ry="1.7"  style="fill:#fff;stroke:#444;stroke-width:0.7"/>
<ellipse class="" cx="457.8" cy="357.9" rx="2.7" ry="1.7"  style="fill:#fff;stroke:#444;stroke-width:0.7"/>
<ellipse class="" cx="464.2" cy="354.3" rx="2.7" ry="1.7"  style="fill:#fff;stroke:#444;stroke-width:0.7"/>
<ellipse class="" cx="470.0" cy="351.0" rx="2.7" ry="1.7"  style="fill:#fff;stroke:#444;stroke-width:0.7"/>
<ellipse class="" cx="479.6" cy="349.0" rx="2.7" ry="1.7"  style="fill:#fff;stroke:#444;stroke-width:0.7"/>
<ellipse class="" cx="485.4" cy="345.7" rx="2.7" ry="1.7"  style="fill:#fff;stroke:#444;stroke-width:0.7"/>
<ellipse class="" cx="478.3" cy="336.1" rx="2.7" ry="1.7"  style="fill:#fff;stroke:#444;stroke-width:0.7"/>
<ellipse class="" cx="484.1" cy="332.9" rx="2.7" ry="1.7"  style="fill:#fff;stroke:#444;stroke-width:0.7"/>
<ellipse class="" cx="490.6" cy="336.1" rx="2.7" ry="1.7"  style="fill:#fff;stroke:#444;stroke-width:0.7"/>
<ellipse class="" cx="496.3" cy="332.9" rx="2.7" ry="1.7"  style="fill:#fff;stroke:#444;stroke-width:0.7"/>
<ellipse class="" cx="496.3" cy="339.3" rx="2.7" ry="1.7"  style="fill:#fff;stroke:#444;stroke-width:0.7"/>
<ellipse class="" cx="491.2" cy="342.5" rx="2.7" ry="1.7"  style="fill:#fff;stroke:#444;stroke-width:0.7"/>
<ellipse class="" cx="467.4" cy="342.5" rx="3.3" ry="1.9" transform="rotate(-12 467.416 342.494)"  style="fill:#fff;stroke:#555;stroke-width:0.6"/>
<ellipse class="" cx="472.8" cy="339.3" rx="3.3" ry="1.9" transform="rotate(-12 472.815 339.28)"  style="fill:#fff;stroke:#555;stroke-width:0.6"/>
<ellipse class="" cx="484.8" cy="339.3" rx="3.3" ry="1.9" transform="rotate(-12 484.769 339.28)"  style="fill:#fff;stroke:#555;stroke-width:0.6"/>
<ellipse class="" cx="473.2" cy="345.7" rx="2.6" ry="1.6"  style="fill:#b0b0b0;stroke:#3a3a3a;stroke-width:0.9"/>
<ellipse class="" cx="476.4" cy="354.3" rx="2.6" ry="1.6"  style="fill:#b0b0b0;stroke:#3a3a3a;stroke-width:0.9"/>
<ellipse class="" cx="470.6" cy="357.7" rx="2.6" ry="1.6"  style="fill:#b0b0b0;stroke:#3a3a3a;stroke-width:0.9"/>
<ellipse class="" cx="464.2" cy="361.3" rx="2.6" ry="1.6"  style="fill:#b0b0b0;stroke:#3a3a3a;stroke-width:0.9"/>
<ellipse class="" cx="457.8" cy="365.0" rx="2.6" ry="1.6"  style="fill:#b0b0b0;stroke:#3a3a3a;stroke-width:0.9"/>
<ellipse class="k" cx="484.1" cy="332.9" rx="1.3" ry="0.8" />
<ellipse class="k" cx="496.3" cy="332.9" rx="1.3" ry="0.8" />
<ellipse class="k" cx="490.6" cy="336.1" rx="1.3" ry="0.8" />
<ellipse class="k" cx="496.3" cy="339.3" rx="1.3" ry="0.8" />
<ellipse class="k" cx="491.2" cy="342.5" rx="1.3" ry="0.8" />
<ellipse class="k" cx="478.3" cy="336.1" rx="1.3" ry="0.8" />
<text x="440.0" y="363.9" transform="rotate(28 443.6 363.3)" style="font-size:3.2px;font-weight:bold;fill:#333">biOrb</text>
</g>
<g id="p5">
<rect x="395" y="403.2" width="125" height="93.2" fill="none" stroke="#909090" stroke-width="1"/>
<path class="w" d="M474.1 414.3C475.0 413.6 477.3 411.3 479.3 410.3C481.3 409.3 483.9 408.5 486.1 408.2C488.4 407.9 491.3 408.1 493.0 408.6C494.7 409.0 495.9 410.5 496.4 410.9L499.9 410.5L500.1 419.4L495.3 420.0L479.3 417.1Z" />
<path class="t" d="M479.3 414.3C480.2 413.8 483.1 411.9 485.0 411.4C486.9 411.0 489.1 410.9 490.7 411.4C492.3 412.0 493.9 413.5 494.7 414.9C495.6 416.2 495.7 418.7 495.9 419.4" />
<path class="t" d="M482.7 414.3C483.4 414.0 485.4 412.9 486.7 412.8C488.0 412.7 489.6 412.8 490.7 413.7C491.9 414.6 493.1 417.5 493.6 418.3" />
<path class="t" d="M496.4 410.9L497.0 419.4" />
<path class="w" d="M467.3 417.7Q467.9 414.9 470.7 414.6L470.7 414.6Q473.6 414.3 476.4 415.0L506.1 422.7Q509.0 423.4 511.4 425.3L511.6 425.4Q514.1 427.4 514.8 430.6L514.9 430.9Q515.6 434.3 515.6 437.8L515.6 447.2Q515.6 450.3 514.6 453.1L514.5 453.5Q513.6 456.0 511.3 457.4L511.0 457.6Q509.0 458.9 506.7 458.6L506.7 458.6Q504.4 458.3 502.2 457.8L463.9 448.7Q461.0 448.0 461.6 445.1Z" />
<path class="w" d="M458.5 419.5Q460.8 417.4 463.8 418.1L503.0 428.0Q510.7 429.9 510.8 437.9L511.0 450.5Q511.1 458.5 503.3 456.7L464.8 448.1Q457.0 446.3 456.7 438.3L456.3 424.9Q456.2 421.7 458.5 419.5Z"  style="stroke-width:1.2"/>
<ellipse class="t" cx="512.2" cy="438.9" rx="1.2" ry="2.6" />
<ellipse class="t" cx="512.2" cy="448.6" rx="1.2" ry="2.6" />
<text x="472.7" y="444.5" transform="rotate(-90 481.3 441.7)" style="font-size:7.2px;font-weight:bold;fill:#1a1a1a;stroke:#1a1a1a;stroke-width:0.4;letter-spacing:-0.3px">biOrb</text>
<path class="w" d="M400.6 475.5L422.4 470.4L423.3 471.7L423.3 482.0L402.9 488.6L401.5 487.1Z"  style="stroke-width:0.9;stroke:#3a3a3a"/>
<path class="t" d="M400.6 475.5L402.0 477.3L423.3 471.7M402.0 477.3L402.9 488.6"  style="stroke:#3a3a3a;stroke-width:0.8"/>
<ellipse class="" cx="411.7" cy="482.8" rx="1.5" ry="3.1" transform="rotate(-32 411.713 482.799)"  style="fill:#fff;stroke:#333;stroke-width:0.8"/>
<path class="" d="M412.4 481.2l1.9 2.9"  style="fill:none;stroke:#333;stroke-width:1.1"/>
<ellipse class="" cx="417.7" cy="481.2" rx="1.5" ry="3.1" transform="rotate(-32 417.748 481.22)"  style="fill:#fff;stroke:#333;stroke-width:0.8"/>
<path class="" d="M418.4 479.6l1.9 2.9"  style="fill:none;stroke:#333;stroke-width:1.1"/>
<path class="w" d="M428.0 475.5L449.8 470.4L450.7 471.7L450.7 482.0L430.3 488.6L428.9 487.1Z"  style="stroke-width:0.9;stroke:#3a3a3a"/>
<path class="t" d="M428.0 475.5L429.4 477.3L450.7 471.7M429.4 477.3L430.3 488.6"  style="stroke:#3a3a3a;stroke-width:0.8"/>
<ellipse class="" cx="439.1" cy="482.8" rx="1.5" ry="3.1" transform="rotate(-32 439.113 482.799)"  style="fill:#fff;stroke:#333;stroke-width:0.8"/>
<path class="" d="M439.8 481.2l1.9 2.9"  style="fill:none;stroke:#333;stroke-width:1.1"/>
<ellipse class="" cx="445.1" cy="481.2" rx="1.5" ry="3.1" transform="rotate(-32 445.148 481.22)"  style="fill:#fff;stroke:#333;stroke-width:0.8"/>
<path class="" d="M445.8 479.6l1.9 2.9"  style="fill:none;stroke:#333;stroke-width:1.1"/>
<path class="w" d="M457.3 475.3L478.2 471.6L479.0 473.0L479.0 483.2L460.6 488.8L459.2 487.9L457.8 476.7Z"  style="stroke-width:0.9;stroke:#3a3a3a"/>
<path class="t" d="M457.3 475.3L459.2 476.9L479.0 473.0M459.2 476.9L459.6 487.9"  style="stroke:#3a3a3a;stroke-width:0.8"/>
<path class="w" d="M462.4 481.4Q462.0 480.0 463.3 479.2L465.8 477.9Q467.1 477.2 468.6 477.1L473.5 476.8Q475.0 476.7 476.3 477.3L480.6 479.3Q481.9 480.0 482.7 481.2L483.2 481.9Q484.0 483.2 482.6 483.9L477.7 486.4Q476.4 487.1 474.9 487.1L469.5 487.1Q468.0 487.1 466.7 486.3L464.6 485.1Q463.4 484.3 462.9 482.9Z"  style="stroke-width:1;stroke:#2a2a2a"/>
<path class="t" d="M463.4 484.3L468.9 480.9L476.4 487.1M468.9 480.9L475.0 476.7" />
<path class="" d="M479.9 482.6L485.6 485.3"  style="fill:none;stroke:#333;stroke-width:2;stroke-linecap:round"/>
<path class="" d="M471.7 484.3L476.5 487.7"  style="fill:none;stroke:#333;stroke-width:2;stroke-linecap:round"/>
<path class="" d="M480.3 482.7L485.3 485.1"  style="fill:none;stroke:#ddd;stroke-width:0.7;stroke-linecap:round"/>
<path class="" d="M472.1 484.6L476.2 487.4"  style="fill:none;stroke:#ddd;stroke-width:0.7;stroke-linecap:round"/>
<path class="w" d="M490.7 475.8C491.7 473.9 493.5 470.1 494.9 468.4C496.4 466.6 497.8 465.8 499.6 465.1C501.3 464.4 503.9 464.0 505.6 464.2C507.3 464.3 508.5 464.7 509.8 466.0C511.1 467.4 512.5 469.7 513.5 472.1C514.5 474.4 515.7 478.1 515.8 480.0C516.0 481.8 515.9 482.1 514.4 483.2C513.0 484.4 510.1 486.2 507.0 486.9C503.9 487.7 498.6 488.2 495.9 487.9C493.1 487.5 491.8 486.4 490.7 485.1C489.7 483.8 489.4 481.5 489.4 480.0C489.4 478.4 489.8 477.7 490.7 475.8Z"  style="stroke-width:1.1"/>
<path class="t" d="M492.6 484.3C492.4 483.6 491.4 481.3 491.4 480.0C491.4 478.6 491.7 478.0 492.6 476.2C493.5 474.5 495.3 470.9 496.6 469.3C497.9 467.7 499.2 467.1 500.7 466.5C502.2 465.9 504.8 465.7 505.6 465.6" />
<path class="w" d="M502.4 467.6L508.7 465.8L511.6 471.0L505.6 473.0Z"  style="stroke-width:1;fill:#ddd"/>
<path class="t" d="M503.5 468.5L508.1 467.1L510.3 470.8L505.9 472.1Z" />
<path class="w" d="M496.8 481.0L501.4 480.0L504.2 483.2L499.6 484.3Z"  style="stroke-width:0.9;fill:#c4c4c4"/>
<path class="w" d="M507.0 479.0L510.7 478.1L514.4 481.4L510.7 482.4Z"  style="stroke-width:0.9;fill:#c4c4c4"/>
<path class="t" d="M498.6 481.5L501.9 483.2M508.7 479.5L512.1 481.2" />
</g>
<g id="p7">
<path class="" d="M381.4 589.4C380.7 590.6 377.1 593.7 377.1 596.3C377.1 598.9 378.7 602.4 381.4 604.9C384.1 607.3 389.1 609.6 393.4 610.9C397.7 612.1 402.6 612.7 407.1 612.6C411.7 612.4 417.0 611.6 420.9 610.0C424.7 608.4 428.4 605.6 430.3 603.1C432.1 600.7 432.7 598.0 432.0 595.4C431.3 592.9 429.0 589.9 426.0 587.7C423.0 585.6 418.0 583.6 414.0 582.6C410.0 581.6 405.9 581.4 402.0 581.7C398.1 582.0 392.7 583.9 390.9 584.3"  style="fill:none;stroke:#2a2a2a;stroke-width:3.7;stroke-linecap:butt"/><path class="" d="M381.4 589.4C380.7 590.6 377.1 593.7 377.1 596.3C377.1 598.9 378.7 602.4 381.4 604.9C384.1 607.3 389.1 609.6 393.4 610.9C397.7 612.1 402.6 612.7 407.1 612.6C411.7 612.4 417.0 611.6 420.9 610.0C424.7 608.4 428.4 605.6 430.3 603.1C432.1 600.7 432.7 598.0 432.0 595.4C431.3 592.9 429.0 589.9 426.0 587.7C423.0 585.6 418.0 583.6 414.0 582.6C410.0 581.6 405.9 581.4 402.0 581.7C398.1 582.0 392.7 583.9 390.9 584.3"  style="fill:none;stroke:#fff;stroke-width:1.7;stroke-linecap:butt"/>
<path class="" d="M384.9 590.3C384.6 591.4 382.6 594.9 383.1 597.1C383.7 599.4 385.7 602.1 388.3 604.0C390.9 605.9 394.9 607.4 398.6 608.3C402.3 609.1 406.6 609.6 410.6 609.1C414.6 608.7 419.5 607.4 422.6 605.7C425.7 604.0 428.2 601.1 429.1 598.9C429.9 596.6 429.1 594.1 427.7 592.0C426.3 589.9 423.7 587.7 420.9 586.3C418.0 585.0 414.3 584.3 410.6 583.9C406.9 583.5 402.1 583.5 398.6 583.9C395.0 584.3 390.7 585.9 389.1 586.3"  style="fill:none;stroke:#2a2a2a;stroke-width:3.5;stroke-linecap:butt"/><path class="" d="M384.9 590.3C384.6 591.4 382.6 594.9 383.1 597.1C383.7 599.4 385.7 602.1 388.3 604.0C390.9 605.9 394.9 607.4 398.6 608.3C402.3 609.1 406.6 609.6 410.6 609.1C414.6 608.7 419.5 607.4 422.6 605.7C425.7 604.0 428.2 601.1 429.1 598.9C429.9 596.6 429.1 594.1 427.7 592.0C426.3 589.9 423.7 587.7 420.9 586.3C418.0 585.0 414.3 584.3 410.6 583.9C406.9 583.5 402.1 583.5 398.6 583.9C395.0 584.3 390.7 585.9 389.1 586.3"  style="fill:none;stroke:#fff;stroke-width:1.5;stroke-linecap:butt"/>
<path class="" d="M361.7 582.2C363.9 581.0 370.4 576.5 374.6 574.9C378.7 573.2 382.0 572.7 386.6 572.3C391.1 571.9 397.1 571.7 402.0 572.3C406.9 572.9 411.7 574.2 415.7 576.1C419.7 577.9 423.4 580.6 426.0 583.4C428.6 586.2 430.5 589.9 431.5 592.9C432.5 595.9 432.5 598.6 431.8 601.4C431.1 604.2 429.6 607.2 427.4 609.7C425.1 612.1 421.7 614.5 418.3 616.2C414.9 617.8 411.0 619.1 407.1 619.4C403.3 619.8 399.4 619.2 395.1 618.4C390.9 617.6 385.6 616.0 381.4 614.5C377.3 612.9 372.1 610.0 370.3 609.1"  style="fill:none;stroke:#2a2a2a;stroke-width:3.7;stroke-linecap:butt"/><path class="" d="M361.7 582.2C363.9 581.0 370.4 576.5 374.6 574.9C378.7 573.2 382.0 572.7 386.6 572.3C391.1 571.9 397.1 571.7 402.0 572.3C406.9 572.9 411.7 574.2 415.7 576.1C419.7 577.9 423.4 580.6 426.0 583.4C428.6 586.2 430.5 589.9 431.5 592.9C432.5 595.9 432.5 598.6 431.8 601.4C431.1 604.2 429.6 607.2 427.4 609.7C425.1 612.1 421.7 614.5 418.3 616.2C414.9 617.8 411.0 619.1 407.1 619.4C403.3 619.8 399.4 619.2 395.1 618.4C390.9 617.6 385.6 616.0 381.4 614.5C377.3 612.9 372.1 610.0 370.3 609.1"  style="fill:none;stroke:#fff;stroke-width:1.7;stroke-linecap:butt"/>
<path class="o" d="M360.5 580.2L362.9 583.6" />
<path class="o" d="M371.1 607.4L369.4 610.9" />
<ellipse class="w" cx="385.7" cy="586.3" rx="2.8" ry="3.4" transform="rotate(-30 385.717 586.345)" />
<ellipse class="w" cx="388.3" cy="584.9" rx="1.6" ry="2.2" transform="rotate(-30 388.317 584.945)" />
<ellipse class="w" cx="390.9" cy="583.9" rx="1.4" ry="1.8" transform="rotate(-30 390.917 583.945)" />
</g>
<g id="p6">
<path class="" d="M513.9 548.6C515.3 548.3 519.8 547.4 522.4 546.9C525.0 546.4 527.1 545.6 529.3 545.6C531.4 545.6 534.0 546.0 535.3 546.9C536.6 547.8 537.1 549.4 537.0 551.1C536.9 552.8 535.4 555.1 534.4 557.1C533.4 559.1 532.1 561.4 531.0 563.1C529.9 564.8 529.2 565.9 527.6 567.4C526.0 568.9 522.6 571.1 521.6 571.9"  style="fill:none;stroke:#6a6a6a;stroke-width:2"/><path class="" d="M513.9 548.6C515.3 548.3 519.8 547.4 522.4 546.9C525.0 546.4 527.1 545.6 529.3 545.6C531.4 545.6 534.0 546.0 535.3 546.9C536.6 547.8 537.1 549.4 537.0 551.1C536.9 552.8 535.4 555.1 534.4 557.1C533.4 559.1 532.1 561.4 531.0 563.1C529.9 564.8 529.2 565.9 527.6 567.4C526.0 568.9 522.6 571.1 521.6 571.9"  style="fill:none;stroke:#e8e8e8;stroke-width:0.7"/>
<path class="" d="M531.0 564.9C531.9 564.5 534.1 562.8 536.1 562.3C538.1 561.8 541.1 561.3 543.0 561.9C544.9 562.5 546.9 564.1 547.7 565.7C548.5 567.3 548.4 569.9 547.6 571.7C546.8 573.6 544.8 575.3 543.0 576.8C541.2 578.3 539.0 580.1 537.0 580.7C535.0 581.4 532.6 581.4 531.0 580.7C529.4 580.1 528.2 578.4 527.6 576.8C527.0 575.2 526.5 572.9 527.1 570.9C527.7 568.9 530.4 565.9 531.0 564.9"  style="fill:none;stroke:#6a6a6a;stroke-width:2"/><path class="" d="M531.0 564.9C531.9 564.5 534.1 562.8 536.1 562.3C538.1 561.8 541.1 561.3 543.0 561.9C544.9 562.5 546.9 564.1 547.7 565.7C548.5 567.3 548.4 569.9 547.6 571.7C546.8 573.6 544.8 575.3 543.0 576.8C541.2 578.3 539.0 580.1 537.0 580.7C535.0 581.4 532.6 581.4 531.0 580.7C529.4 580.1 528.2 578.4 527.6 576.8C527.0 575.2 526.5 572.9 527.1 570.9C527.7 568.9 530.4 565.9 531.0 564.9"  style="fill:none;stroke:#e8e8e8;stroke-width:0.7"/>
<path class="" d="M522.4 570.6L508.6 581"  style="fill:none;stroke:#2a2a2a;stroke-width:3.2;stroke-linecap:round"/>
<path class="" d="M519.6 572.8L511.6 578.8"  style="fill:none;stroke:#fff;stroke-width:1.8;stroke-dasharray:1.3 1.4"/>
<path class="" d="M522.8 570.2L520.6 572"  style="fill:none;stroke:#222;stroke-width:2.2"/>
<path class="w" d="M455.0 568.4v3.2q2 1.4 4 0v-3.2"  style="stroke-width:0.9"/>
<path class="w" d="M472.7 575.5v3.2q2 1.4 4 0v-3.2"  style="stroke-width:0.9"/>
<path class="w" d="M478.9 572.9v3.2q2 1.4 4 0v-3.2"  style="stroke-width:0.9"/>
<path class="w" d="M505.0 563.1v3.2q2 1.4 4 0v-3.2"  style="stroke-width:0.9"/>
<path class="w" d="M449.8 551V564Q450.2 566.4 453 568L470.5 576Q474.5 577.8 479 576L510 562.8Q513.4 561.2 513.5 557.5V549Q513.4 541.5 506.5 536Q499 530.4 492 529.8Q487.5 529.4 482 531.2L459 539.8Q450 543.5 449.8 551Z"  style="stroke-width:1.1"/>
<path class="o" d="M450.1 555.0C451.3 555.7 454.4 557.9 456.8 559.0C459.1 560.1 461.8 560.9 464.3 561.7C466.8 562.4 469.7 563.0 471.8 563.3C473.9 563.5 474.5 563.8 477.2 563.2C479.8 562.5 483.9 561.0 487.9 559.5C491.8 558.0 496.4 555.9 500.7 554.2C505.0 552.4 511.5 550.0 513.7 549.2" />
<path class="t" d="M450.1 556.6C451.3 557.3 454.4 559.5 456.8 560.6C459.1 561.7 461.8 562.5 464.3 563.3C466.8 564.0 469.7 564.6 471.8 564.9C473.9 565.1 474.5 565.4 477.2 564.8C479.8 564.1 483.9 562.6 487.9 561.1C491.8 559.6 496.4 557.5 500.7 555.8C505.0 554.0 511.5 551.6 513.7 550.8"  style="stroke:#777"/>
<path class="t" d="M458.9 543.2Q456.6 542.2 458.9 541.2L479.5 532.9Q487.9 529.5 496.0 533.4L500.5 535.5Q505.9 538.1 500.4 540.6L485.3 547.4Q477.2 551.2 468.9 547.5Z"  style="stroke:#333;stroke-width:0.8"/>
<ellipse class="w" cx="460.0" cy="559.5" rx="3.5" ry="4.6" transform="rotate(-25 460.005 559.513)"  style="stroke-width:1.2"/>
<ellipse class="" cx="460.5" cy="559.7" rx="2.0" ry="3.0" transform="rotate(-25 460.505 559.713)"  style="fill:#aaa;stroke:#333;stroke-width:0.8"/>
<text x="-7.6" y="1.9" transform="translate(481.4 539.0) rotate(25) skewX(-35)" style="font-size:6.2px;font-weight:bold;fill:#1a1a1a;stroke:#1a1a1a;stroke-width:0.35;letter-spacing:-0.2px">biOrb</text>
</g>
<path class="ax" d="M458 561.6L427 579" />
<g id="labels" opacity="0.99">
<path class="ld" d="M258.0 61.6H295.5" />
<text x="298.7" y="65.1">11</text>
<path class="ld" d="M465.0 71.8H507.4" />
<text x="511.2" y="75.3">1</text>
<path class="ld" d="M474.3 156.7H507.4" />
<text x="510.6" y="160.2">2</text>
<path class="ld" d="M480.0 239.3H507.4" />
<text x="510.6" y="242.9">3</text>
<path class="ld" d="M249.2 206.9H294.4" />
<text x="297.7" y="210.5">10</text>
<path class="ld" d="M261.0 353.2H298.1" />
<text x="301.2" y="356.8">9</text>
<path class="ld" d="M246.0 424.4H298.6" />
<text x="301.6" y="427.9">8</text>
<path class="ld" d="M497.0 346.0H540.6" />
<text x="543.8" y="349.5">4</text>
<path class="ld" d="M520.0 451.4H540.6" />
<text x="543.8" y="454.9">5</text>
<path class="ld" d="M504.0 536.0H540.6" />
<text x="543.3" y="539.5">6</text>
<path class="ld" d="M432.0 609.0H539.5" />
<text x="543.0" y="612.5">7</text>
</g>
</svg>
</body></html>
